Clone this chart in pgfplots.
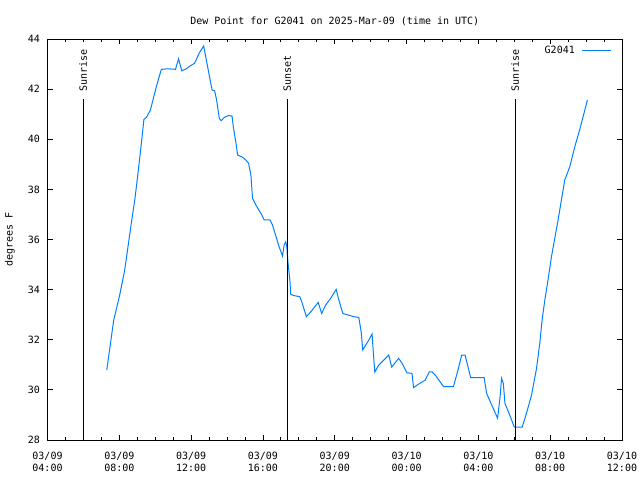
\documentclass[border=0pt]{standalone}
\usepackage{fontspec}
\setmainfont{DejaVu Sans Mono}
\usepackage{pgfplots}
\pgfplotsset{compat=1.18}
\definecolor{dew}{RGB}{0,128,255}
\begin{document}
\begin{tikzpicture}[x=1bp,y=1bp,font=\fontsize{10bp}{12bp}\selectfont]
\begin{axis}[
  scale only axis, width=574.5bp, height=401bp,
  xmin=4, xmax=36, ymin=28, ymax=44,
  xtick={4,8,...,36},
  xticklabels={{03/09\\04:00},{03/09\\08:00},{03/09\\12:00},{03/09\\16:00},{03/09\\20:00},{03/10\\00:00},{03/10\\04:00},{03/10\\08:00},{03/10\\12:00}},
  xticklabel style={align=center, font=\fontsize{10bp}{12bp}\selectfont, yshift=-8.5bp},
  yticklabel style={font=\fontsize{10bp}{12bp}\selectfont, xshift=-4bp},
  minor x tick num=3,
  ytick={28,30,...,44},
  tick align=inside,
  major tick length=5bp, minor tick length=3bp,
  axis line style={line width=0.8bp},
  every tick/.style={black, line width=0.8bp},
  /pgf/number format/assume math mode=true,
  title={Dew Point for G2041 on 2025-Mar-09 (time in UTC)},
  title style={at={(0.5,1)}, anchor=base, yshift=9bp, inner sep=0pt, font=\fontsize{10bp}{12bp}\selectfont},
  ylabel={degrees F},
  ylabel style={at={(axis description cs:-0.0653,0.5)}, anchor=center, font=\fontsize{10bp}{12bp}\selectfont},
  legend plot pos=right,
  legend style={draw=none, fill=none, at={(rel axis cs:1,1)}, anchor=north east, xshift=-7bp, yshift=-2.5bp, font=\fontsize{10bp}{12bp}\selectfont,
    /tikz/every odd column/.append style={column sep=5bp}},
  legend image code/.code={\draw[#1] (0bp,0bp) -- (29bp,0bp);},
]
\coordinate (SW) at (rel axis cs:0,0);
\coordinate (NE) at (rel axis cs:1,1);
\addplot[dew, line width=1bp] coordinates {
(7.30,30.79) (7.69,32.79) (8.02,33.78) (8.30,34.78) (8.67,36.66) (8.86,37.57)
(9.04,38.64) (9.23,39.85) (9.37,40.79) (9.51,40.87) (9.73,41.16) (10.06,42.09)
(10.34,42.79) (10.70,42.81) (11.13,42.79) (11.30,43.21) (11.48,42.73) (11.72,42.81)
(12.00,42.95) (12.19,43.03) (12.46,43.45) (12.70,43.72) (12.92,42.89) (13.06,42.36)
(13.17,41.96) (13.31,41.93) (13.42,41.56) (13.57,40.83) (13.67,40.74) (13.85,40.87)
(14.09,40.95) (14.28,40.92) (14.35,40.50) (14.50,39.83) (14.59,39.37) (14.87,39.28)
(15.05,39.17) (15.20,39.04) (15.33,38.57) (15.42,37.64) (15.61,37.37) (15.89,37.04)
(16.07,36.78) (16.39,36.78) (16.53,36.58) (16.72,36.14) (16.90,35.71) (17.09,35.34)
(17.18,35.78) (17.27,35.91) (17.33,35.71) (17.40,35.05) (17.50,34.38) (17.55,33.81)
(17.73,33.76) (18.05,33.72) (18.16,33.52) (18.42,32.92) (18.75,33.19) (19.08,33.49)
(19.27,33.05) (19.49,33.38) (19.77,33.65) (20.08,34.01) (20.23,33.58) (20.45,33.05)
(20.64,33.01) (21.06,32.92) (21.34,32.89) (21.47,32.32) (21.56,31.59) (21.90,31.99)
(22.08,32.23) (22.14,31.59) (22.23,30.71) (22.45,30.99) (23.01,31.39) (23.17,30.91)
(23.56,31.26) (23.75,31.06) (24.02,30.68) (24.30,30.66) (24.39,30.09) (24.67,30.23)
(25.04,30.39) (25.27,30.72) (25.41,30.72) (25.60,30.59) (26.06,30.13) (26.61,30.13)
(26.89,30.86) (27.07,31.39) (27.26,31.39) (27.57,30.49) (28.32,30.49) (28.46,29.86)
(28.74,29.40) (29.07,28.87) (29.21,29.73) (29.29,30.46) (29.39,30.26) (29.48,29.46)
(29.67,29.13) (29.85,28.80) (30.00,28.51) (30.44,28.51) (30.68,29.07) (30.96,29.79)
(31.24,30.86) (31.42,31.86) (31.55,32.79) (31.70,33.58) (31.85,34.25) (32.07,35.31)
(32.44,36.78) (32.81,38.37) (33.09,38.90) (33.37,39.70) (33.64,40.37) (33.88,41.03)
(34.07,41.56)
};
\addlegendentry{G2041}
\addplot[black, line width=1bp, forget plot] coordinates {(5.98,28) (5.98,41.6)};
\addplot[black, line width=1bp, forget plot] coordinates {(17.35,28) (17.35,41.6)};
\addplot[black, line width=1bp, forget plot] coordinates {(30.05,28) (30.05,41.6)};
\node[rotate=90, anchor=west, inner sep=0pt] at (axis cs:5.98,41.88) {Sunrise};
\node[rotate=90, anchor=west, inner sep=0pt] at (axis cs:17.35,41.88) {Sunset};
\node[rotate=90, anchor=west, inner sep=0pt] at (axis cs:30.05,41.88) {Sunrise};
\end{axis}
\pgfresetboundingbox
\path[use as bounding box] ([xshift=-47.5bp,yshift=-40bp]SW) rectangle ([xshift=18bp,yshift=39bp]NE);
\end{tikzpicture}
\end{document}
